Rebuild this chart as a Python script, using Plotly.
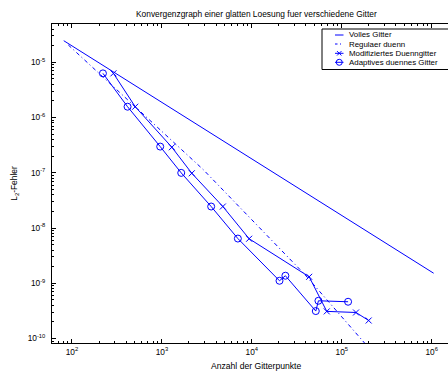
import plotly.graph_objects as go

# ---------------- data ----------------
volles_n = [81, 289, 1089, 4225, 16641, 66049, 263169, 1050625]
volles_err = [2.46e-5, 6.68e-6, 1.72e-6, 4.30e-7, 1.06e-7, 2.58e-8, 6.28e-9, 1.52e-9]

regulaer_n = [91, 2900, 39000, 235000]
regulaer_err = [2.06e-5, 1.13e-7, 1.43e-9, 5.0e-11]

modif_n = [289, 505, 1290, 2150, 4760, 9330, 43400, 68100, 144000, 199000]
modif_err = [6.3e-6, 1.57e-6, 2.9e-7, 9.8e-8, 2.45e-8, 6.4e-9, 1.31e-9, 3.1e-10, 2.96e-10, 2.12e-10]

adapt_n = [221, 415, 957, 1640, 3530, 6990, 20300, 23600, 51400, 55000, 117500]
adapt_err = [6.3e-6, 1.57e-6, 2.98e-7, 9.96e-8, 2.45e-8, 6.45e-9, 1.11e-9, 1.37e-9, 3.14e-10, 4.82e-10, 4.63e-10]

series_names = ["Volles Gitter", "Regulaer duenn", "Modifiziertes Duenngitter", "Adaptives duennes Gitter"]

x_tick_vals = [1e2, 1e3, 1e4, 1e5, 1e6]
x_tick_text = ["10<sup>2</sup>", "10<sup>3</sup>", "10<sup>4</sup>", "10<sup>5</sup>", "10<sup>6</sup>"]
y_tick_vals = [1e-10, 1e-9, 1e-8, 1e-7, 1e-6, 1e-5]
y_tick_text = ["10<sup>-10</sup>", "10<sup>-9</sup>", "10<sup>-8</sup>", "10<sup>-7</sup>", "10<sup>-6</sup>", "10<sup>-5</sup>"]

title_text = "Konvergenzgraph einer glatten Loesung fuer verschiedene Gitter"
x_title = "Anzahl der Gitterpunkte"
y_title = "L<sub>2</sub>-Fehler"

# ---------------- style ----------------
BLUE = "rgb(0,0,255)"
FONT = "Liberation Sans, Arial, Helvetica, sans-serif"
W, H = 448, 372
ML, MR, MT, MB = 52, 0, 24, 29
X_RANGE = [1.778, 6.181]
Y_RANGE = [-10.081, -4.307]

minor_x = [m * 10 ** e for e in range(1, 7) for m in range(2, 10)]
minor_y = [m * 10.0 ** e for e in range(-11, -4) for m in range(2, 10)]

fig = go.Figure()
fig.add_trace(go.Scatter(x=volles_n, y=volles_err, mode="lines", name=series_names[0],
                         line=dict(color=BLUE, width=1)))
fig.add_trace(go.Scatter(x=regulaer_n, y=regulaer_err, mode="lines", name=series_names[1],
                         line=dict(color=BLUE, width=1, dash="4px,3px,1px,3px")))
fig.add_trace(go.Scatter(x=modif_n, y=modif_err, mode="lines+markers", name=series_names[2],
                         line=dict(color=BLUE, width=1),
                         marker=dict(symbol="x-thin-open", size=6, color=BLUE,
                                     line=dict(color=BLUE, width=1))))
fig.add_trace(go.Scatter(x=adapt_n, y=adapt_err, mode="lines+markers", name=series_names[3],
                         line=dict(color=BLUE, width=1),
                         marker=dict(symbol="circle-open", size=7, color=BLUE,
                                     line=dict(color=BLUE, width=1))))

plot_w = W - ML - MR
plot_h = H - MT - MB


def px(xp):
    return (xp - ML) / plot_w


def py(yp):
    return (H - MB - yp) / plot_h


# ---------------- manual legend (MATLAB style) ----------------
shapes = []
annotations = []
leg_left, leg_top, leg_bottom = 322, 29, 69.5
shapes.append(dict(type="rect", xref="paper", yref="paper", x0=px(leg_left), x1=px(470),
                   y0=py(leg_bottom), y1=py(leg_top), line=dict(color="black", width=1),
                   fillcolor="white", layer="above"))
row_y = [35, 44, 53.3, 62.3]
samp_x0, samp_x1, text_x = 335, 343.5, 347
for i, name in enumerate(series_names):
    yy = row_y[i]
    if i == 1:
        shapes.append(dict(type="line", xref="paper", yref="paper", x0=px(samp_x0), x1=px(337.5),
                           y0=py(yy), y1=py(yy), line=dict(color=BLUE, width=1), layer="above"))
        shapes.append(dict(type="line", xref="paper", yref="paper", x0=px(340), x1=px(341),
                           y0=py(yy), y1=py(yy), line=dict(color=BLUE, width=1), layer="above"))
    else:
        shapes.append(dict(type="line", xref="paper", yref="paper", x0=px(samp_x0), x1=px(samp_x1),
                           y0=py(yy), y1=py(yy), line=dict(color=BLUE, width=1), layer="above"))
    cx = (samp_x0 + samp_x1) / 2
    if i == 2:
        for d in (1, -1):
            shapes.append(dict(type="line", xref="paper", yref="paper", x0=px(cx - 2.2), x1=px(cx + 2.2),
                               y0=py(yy - 2.2 * d), y1=py(yy + 2.2 * d),
                               line=dict(color=BLUE, width=1), layer="above"))
    if i == 3:
        shapes.append(dict(type="circle", xref="paper", yref="paper", x0=px(cx - 3), x1=px(cx + 3),
                           y0=py(yy + 3), y1=py(yy - 3), line=dict(color=BLUE, width=1), layer="above"))
    annotations.append(dict(text=name, xref="paper", yref="paper", x=px(text_x), y=py(yy),
                            xanchor="left", yanchor="middle", showarrow=False,
                            font=dict(family=FONT, size=7.9, color="black")))

annotations.append(dict(text=x_title, xref="paper", yref="paper", x=px(256.7), y=py(366),
                        xanchor="center", yanchor="middle", showarrow=False,
                        font=dict(family=FONT, size=8.6, color="black")))
annotations.append(dict(text=title_text, xref="paper", yref="paper", x=px(256.7), y=py(14.3),
                        xanchor="center", yanchor="middle", showarrow=False,
                        font=dict(family=FONT, size=8.4, color="black")))

axis_common = dict(type="log", showgrid=False, zeroline=False, showline=True,
                   linecolor="black", linewidth=1, ticks="inside", ticklen=4, tickwidth=1,
                   tickcolor="black", tickfont=dict(family=FONT, size=8.3, color="black"))

fig.update_layout(
    width=W, height=H, margin=dict(l=ML, r=MR, t=MT, b=MB, pad=0),
    paper_bgcolor="white", plot_bgcolor="white", showlegend=False,
    font=dict(family=FONT, size=8, color="black"),
    shapes=shapes, annotations=annotations,
    xaxis=dict(**axis_common, range=X_RANGE, mirror="ticks", tickmode="array",
               tickvals=x_tick_vals, ticktext=x_tick_text, ticklabelstandoff=1,
               minor=dict(ticks="inside", ticklen=2, tickcolor="black", tickmode="array",
                          tickvals=minor_x, showgrid=False)),
    yaxis=dict(**axis_common, range=Y_RANGE, mirror=False, tickmode="array",
               tickvals=y_tick_vals, ticktext=y_tick_text, ticklabelstandoff=4,
               minor=dict(ticks="inside", ticklen=2, tickcolor="black", tickmode="array",
                          tickvals=minor_y, showgrid=False),
               title=dict(text=y_title, font=dict(family=FONT, size=8.4, color="black"), standoff=8)),
)

fig.write_html("out.html")
